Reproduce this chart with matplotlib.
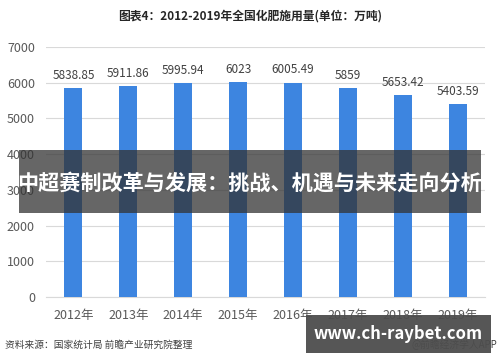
import numpy as np
import matplotlib.pyplot as plt
from matplotlib.patches import Rectangle

plt.rcParams['font.family'] = ['Noto Sans CJK SC', 'DejaVu Sans']

years = ['2012年', '2013年', '2014年', '2015年', '2016年', '2017年', '2018年', '2019年']
usage = [5838.85, 5911.86, 5995.94, 6023, 6005.49, 5859, 5653.42, 5403.59]
labels = ['5838.85', '5911.86', '5995.94', '6023', '6005.49', '5859', '5653.42', '5403.59']

fig = plt.figure(figsize=(5, 3.62), dpi=100)
ax = fig.add_axes([46/500, 65/362, 439/500, 250/362])

x = np.arange(len(years))
ax.bar(x, usage, width=0.33, color='#3d85e0', zorder=3)
for xi, v, t in zip(x, usage, labels):
    ax.text(xi, v + 170, t, ha='center', va='bottom', fontsize=8.5, color='#404040')

ax.set_xlim(-0.5, 7.5)
ax.set_ylim(0, 7000)
ax.set_yticks(range(0, 7001, 1000))
ax.set_xticks(x)
ax.set_xticklabels(years)
ax.tick_params(axis='both', length=0, labelsize=9, colors='#595959')
ax.tick_params(axis='y', pad=8)
ax.tick_params(axis='x', pad=9)
ax.grid(axis='y', color='#d9d9d9', linewidth=0.8, zorder=0)
for s in ['top', 'right', 'left']:
    ax.spines[s].set_visible(False)
ax.spines['bottom'].set_color('#d9d9d9')

fig.text(0.5, 1 - 16/362, '图表4：2012-2019年全国化肥施用量(单位：万吨)', ha='center', va='center',
         fontsize=8.5, fontweight='bold', color='#262626')
fig.text(5/500, 1 - 345/362, '资料来源：国家统计局 前瞻产业研究院整理', ha='left', va='center',
         fontsize=7, color='#404040')
fig.text(497/500, 1 - 345/362, '@前瞻经济学人APP', ha='right', va='center',
         fontsize=7, color='#404040', zorder=1)

# overlay banner
fig.patches.append(Rectangle((19/500, 1 - 213/362), 462/500, 63/362, transform=fig.transFigure,
                             facecolor='#333333', alpha=0.75, edgecolor='none', zorder=10))
fig.text(250/500, 1 - 183/362, '中超赛制改革与发展：挑战、机遇与未来走向分析', ha='center', va='center',
         fontsize=15.2, fontweight='bold', color='white', zorder=11)

# watermark box
fig.patches.append(Rectangle((306/500, 1 - 353/362), 185/500, 38/362, transform=fig.transFigure,
                             facecolor='#4d4d4d', alpha=0.95, edgecolor='none', zorder=10))
fig.text(398/500, 1 - 334/362, 'www.ch-raybet.com', ha='center', va='center',
         fontsize=12, fontweight='bold', color='white', zorder=11)

fig.savefig('out.png', dpi=100)
